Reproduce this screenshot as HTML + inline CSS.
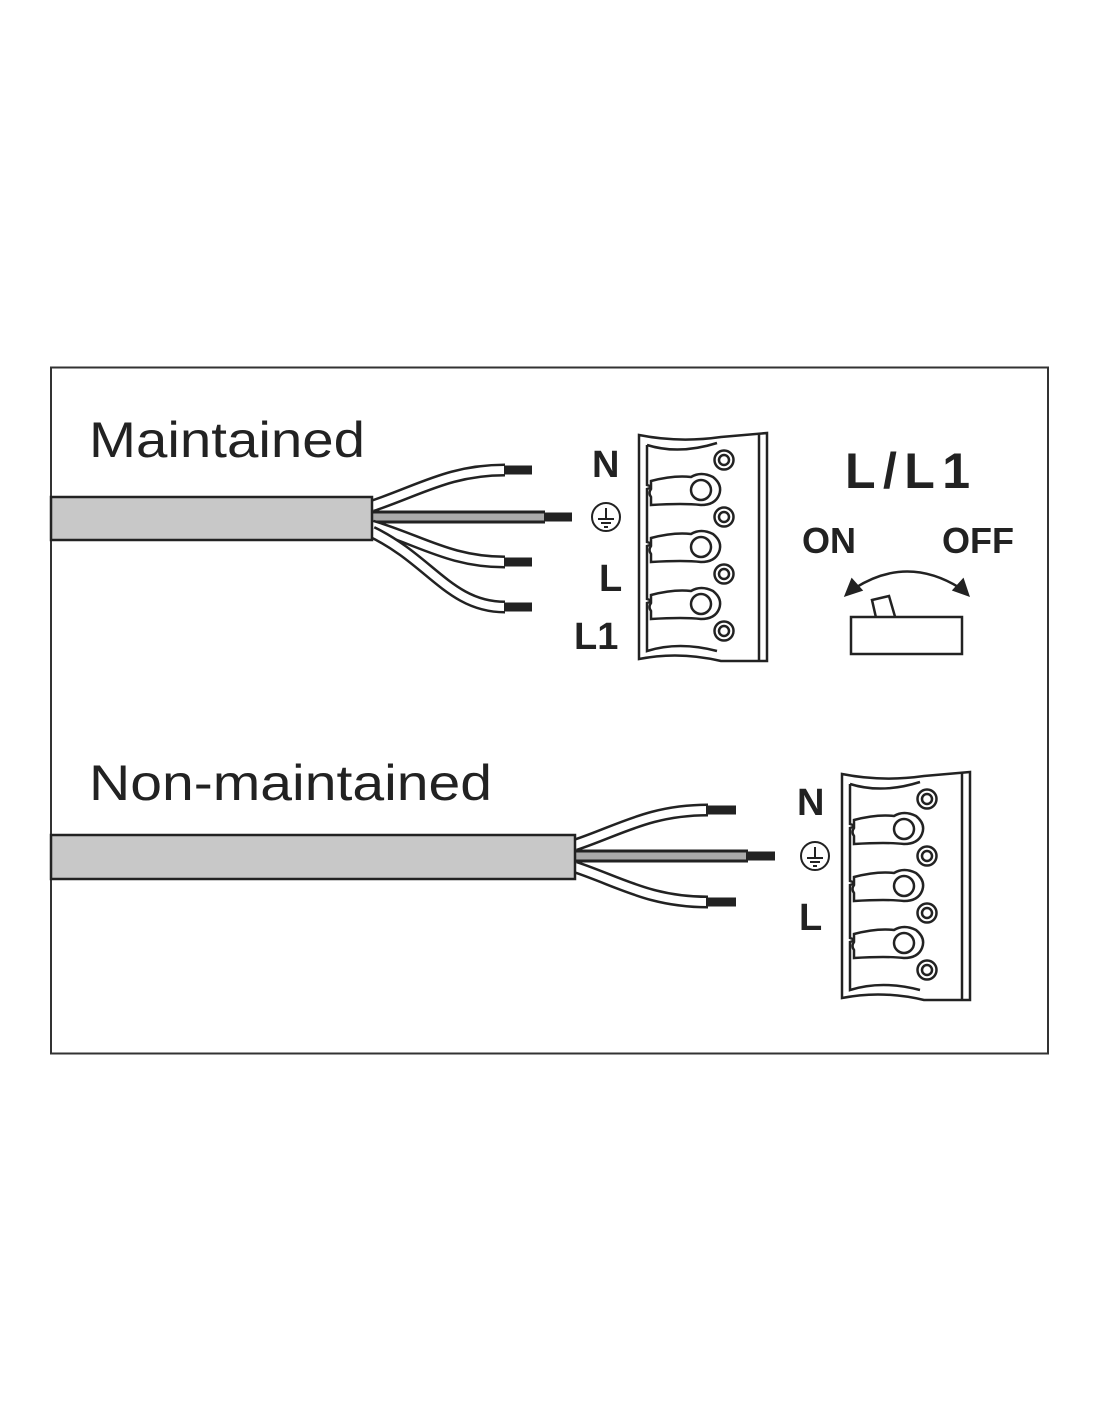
<!DOCTYPE html>
<html><head><style>html,body{margin:0;padding:0;background:#fff}svg{display:block}</style></head>
<body>
<svg width="1100" height="1422" viewBox="0 0 1100 1422" xmlns="http://www.w3.org/2000/svg">
<defs>
<g id="conn" fill="none" stroke="#222" stroke-width="2.5">
  <path d="M0,2 Q40,10 82,4 L128,0 L128,228 L82,228 Q40,218 0,226 Z" fill="#fff"/>
  <line x1="120" y1="0" x2="120" y2="228"/>
  <path d="M8,12 Q40,22 78,10 M8,12 L8,52 L14,54"/>
  <path d="M8,61 L8,109 L14,111 M8,118 L8,166 L14,168 M8,175 L8,218 Q40,208 78,218"/>
  <path d="M14,54 L8,56 L8,61 M14,111 L8,113 L8,118 M14,168 L8,170 L8,175"/>
  <g id="lobe"><path d="M12,48 Q35,42 52,44 Q62,38 74,44 Q84,52 80,62 Q76,72 62,72 Q45,70 12,72 L12,64 Q9,60 12,56 Z" fill="#fff"/><circle cx="62" cy="57" r="10"/></g>
  <use href="#lobe" y="57"/><use href="#lobe" y="114"/>
  <g id="sc"><circle cx="85" cy="27" r="9.5"/><circle cx="85" cy="27" r="5"/></g>
  <use href="#sc" y="57"/><use href="#sc" y="114"/><use href="#sc" y="171"/>
</g>
<g id="earth" fill="none" stroke="#222" stroke-width="2"><circle r="14"/><line x1="0" y1="-9" x2="0" y2="2"/><line x1="-8" y1="2" x2="8" y2="2"/><line x1="-5" y1="6" x2="5" y2="6"/><line x1="-2" y1="10" x2="2" y2="10"/></g>
</defs>
<rect x="51" y="367.5" width="997" height="686" fill="#fff" stroke="#333" stroke-width="2"/>
<g font-family="Liberation Sans, sans-serif" fill="#222">
<text x="89" y="457" font-size="50" textLength="276" lengthAdjust="spacingAndGlyphs">Maintained</text>
<text x="89" y="800" font-size="50" textLength="403" lengthAdjust="spacingAndGlyphs">Non-maintained</text>
<g font-weight="bold" font-size="38">
<text x="592" y="477">N</text><text x="599" y="591">L</text><text x="574" y="649">L1</text>
<text x="797" y="815">N</text><text x="799" y="930">L</text>
<text x="845" y="488" font-size="50" textLength="125" lengthAdjust="spacing">L/L1</text>
<text x="829" y="553" text-anchor="middle" font-size="36">ON</text><text x="978" y="553" text-anchor="middle" font-size="36">OFF</text>
</g></g>
<!-- cable 1 -->
<g stroke="#222" stroke-linecap="butt" fill="none">
<path d="M372,506 C420,490 450,470 505,470" stroke-width="13"/><path d="M372,506 C420,490 450,470 505,470" stroke="#fff" stroke-width="8"/>
<path d="M372,517 L545,517" stroke-width="13"/><path d="M372,517 L545,517" stroke="#aaa" stroke-width="7"/>
<path d="M372,526 C420,540 450,562 505,562" stroke-width="13"/><path d="M372,526 C420,540 450,562 505,562" stroke="#fff" stroke-width="8"/>
<path d="M372,532 C430,560 450,607 505,607" stroke-width="13"/><path d="M372,532 C430,560 450,607 505,607" stroke="#fff" stroke-width="8"/>
<g stroke-width="9"><line x1="504" y1="470" x2="532" y2="470"/><line x1="544" y1="517" x2="572" y2="517"/><line x1="504" y1="562" x2="532" y2="562"/><line x1="504" y1="607" x2="532" y2="607"/></g>
</g>
<rect x="51" y="497" width="321" height="43" fill="#c8c8c8" stroke="#222" stroke-width="2.5"/>
<!-- cable 2 -->
<g stroke="#222" fill="none">
<path d="M575,845 C620,830 650,810 708,810" stroke-width="13"/><path d="M575,845 C620,830 650,810 708,810" stroke="#fff" stroke-width="8"/>
<path d="M575,856 L748,856" stroke-width="13"/><path d="M575,856 L748,856" stroke="#aaa" stroke-width="7"/>
<path d="M575,867 C620,882 650,902 708,902" stroke-width="13"/><path d="M575,867 C620,882 650,902 708,902" stroke="#fff" stroke-width="8"/>
<g stroke-width="9"><line x1="706" y1="810" x2="736" y2="810"/><line x1="746" y1="856" x2="775" y2="856"/><line x1="706" y1="902" x2="736" y2="902"/></g>
</g>
<rect x="51" y="835" width="524" height="44" fill="#c8c8c8" stroke="#222" stroke-width="2.5"/>
<use href="#conn" x="639" y="433"/>
<use href="#conn" x="842" y="772"/>
<use href="#earth" x="606" y="517"/>
<use href="#earth" x="815" y="856"/>
<!-- switch -->
<g stroke="#222" stroke-width="2.5" fill="none">
<path d="M855,588 Q907,555 960,588"/>
<path d="M846,595 L852,580 L861,590 Z M968,595 L954,590 L963,580 Z" fill="#222"/>
<path d="M872,600 L889,596 L896,620 L877,622 Z" fill="#fff"/>
<rect x="851" y="617" width="111" height="37" fill="#fff"/>
</g>
</svg>
</body></html>
